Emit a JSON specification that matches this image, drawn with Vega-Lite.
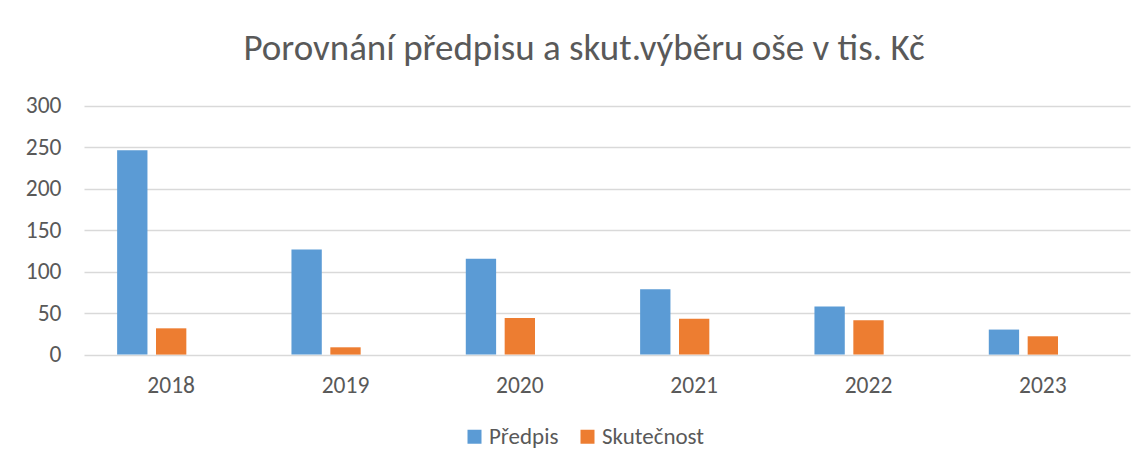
{
  "$schema": "https://vega.github.io/schema/vega-lite/v6.json",
  "autosize": "none",
  "width": 1046,
  "height": 248.6,
  "padding": {"left": 84, "top": 106, "right": 17, "bottom": 115},
  "background": "white",
  "title": {
    "text": "Porovnání předpisu a skut.výběru oše v tis. Kč",
    "font": "Carlito, Lato, sans-serif",
    "fontSize": 37,
    "fontWeight": 300,
    "color": "#595959",
    "anchor": "middle",
    "dx": -23,
    "offset": 26
  },
  "data": {
    "values": [
      {"year": "2018", "series": "Předpis", "value": 246.5},
      {"year": "2018", "series": "Skutečnost", "value": 31.7},
      {"year": "2019", "series": "Předpis", "value": 126.7},
      {"year": "2019", "series": "Skutečnost", "value": 8.8},
      {"year": "2020", "series": "Předpis", "value": 115.8},
      {"year": "2020", "series": "Skutečnost", "value": 44.2},
      {"year": "2021", "series": "Předpis", "value": 78.8},
      {"year": "2021", "series": "Skutečnost", "value": 43.4},
      {"year": "2022", "series": "Předpis", "value": 57.9},
      {"year": "2022", "series": "Skutečnost", "value": 41.4},
      {"year": "2023", "series": "Předpis", "value": 30.2},
      {"year": "2023", "series": "Skutečnost", "value": 22.1}
    ]
  },
  "mark": {"type": "bar"},
  "encoding": {
    "x": {
      "field": "year",
      "type": "nominal",
      "scale": {"paddingInner": 0.38, "paddingOuter": 0.19},
      "axis": {
        "title": null,
        "labelAngle": 0,
        "labelFont": "Carlito, Lato, sans-serif",
        "labelFontSize": 23.5,
        "labelColor": "#595959",
        "labelPadding": 19,
        "ticks": false,
        "domain": false,
        "grid": false
      }
    },
    "xOffset": {
      "field": "series",
      "type": "nominal",
      "scale": {"domain": ["Předpis", "Skutečnost", "ostatní"], "paddingInner": 0.22, "paddingOuter": 0}
    },
    "y": {
      "field": "value",
      "type": "quantitative",
      "scale": {"domain": [0, 300], "nice": false},
      "axis": {
        "title": null,
        "values": [0, 50, 100, 150, 200, 250, 300],
        "labelFont": "Carlito, Lato, sans-serif",
        "labelFontSize": 23.5,
        "labelColor": "#595959",
        "labelPadding": 23,
        "ticks": false,
        "domain": false,
        "grid": true,
        "gridColor": "#d9d9d9",
        "gridWidth": 1.4
      }
    },
    "color": {
      "field": "series",
      "type": "nominal",
      "scale": {"domain": ["Předpis", "Skutečnost"], "range": ["#5B9BD5", "#ED7D31"]},
      "legend": {
        "title": null,
        "orient": "none",
        "direction": "horizontal",
        "legendX": 379,
        "legendY": 319,
        "symbolType": "square",
        "symbolSize": 196,
        "symbolStrokeWidth": 0,
        "labelFont": "Carlito, Lato, sans-serif",
        "labelFontSize": 23,
        "labelColor": "#595959",
        "labelOffset": 3,
        "columnPadding": 17
      }
    }
  },
  "config": {"view": {"stroke": null}}
}
